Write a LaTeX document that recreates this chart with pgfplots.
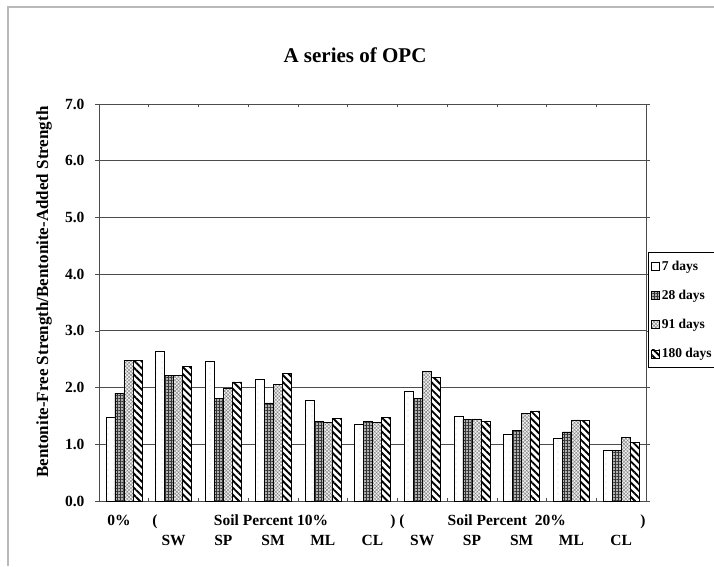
\documentclass[border=0pt]{standalone}
\usepackage{fontspec}
\setmainfont{Liberation Serif}
\usepackage{pgfplots}
\usepackage{pgfplotstable}
\pgfplotsset{compat=1.18}
\usetikzlibrary{patterns,patterns.meta}

\pgfplotstableread{
x d7 d28 d91 d180
0 1.48 1.90 2.48 2.48
1 2.64 2.22 2.22 2.38
2 2.46 1.81 1.99 2.10
3 2.14 1.73 2.06 2.25
4 1.78 1.40 1.38 1.46
5 1.36 1.40 1.39 1.48
6 1.93 1.81 2.28 2.18
7 1.50 1.44 1.45 1.40
8 1.18 1.24 1.55 1.59
9 1.10 1.22 1.43 1.42
10 0.89 0.89 1.12 1.04
}\datatable

\newcommand{\axfont}{\fontsize{15.5}{17}\selectfont\bfseries}

\begin{document}
\begin{tikzpicture}[x=1pt,y=1pt]
\path[use as bounding box] (0,0) rectangle (714,566);
\draw[gray!55, line width=1.5pt] (8,0) -- (8,559) -- (714,559);
\node[anchor=base, font=\fontsize{21}{23}\selectfont\bfseries] at (355,503) {A series of OPC};
\node[rotate=90, font=\fontsize{17}{19}\selectfont\bfseries] at (44,274) {Bentonite-Free Strength/Bentonite-Added Strength};
\begin{axis}[
  at={(99pt,65pt)}, anchor=south west, scale only axis,
  width=547pt, height=397pt,
  clip=false,
  ybar=0pt, bar width=9pt,
  xmin=-0.5, xmax=10.5, ymin=0, ymax=7,
  xtick={0,...,10},
  xticklabels={,SW,SP,SM,ML,CL,SW,SP,SM,ML,CL},
  minor xtick={-0.5,0.5,...,10.5},
  xtick align=inside,
  major x tick style={draw=none},
  minor x tick style={black!70, line width=0.6pt},
  minor tick length=3pt,
  ytick={0,1,...,7},
  ytick align=outside,
  major tick length=4pt,
  major y tick style={black!70, line width=0.6pt},
  ymajorgrids,
  major grid style={gray!60!black, line width=0.8pt},
  axis line style={gray!60!black, line width=0.8pt},
  /pgf/number format/assume math mode=true,
  yticklabel style={/pgf/number format/.cd, fixed, fixed zerofill, precision=1, /tikz/.cd, font=\axfont, xshift=-7pt},
  xticklabel style={font=\axfont, anchor=base, yshift=-44pt},
  legend image code/.code={\draw[#1] (0pt,-4pt) rectangle (8pt,4pt);},
  legend cell align=left,
  legend style={at={(1.0037,0.627)}, anchor=north west, draw=black, line width=0.6pt, fill=white,
    font=\fontsize{13.5}{15}\selectfont\bfseries, row sep=14.3pt, inner xsep=3pt, inner ysep=6.5pt,
    /tikz/every even column/.append style={column sep=1pt}},
]
\addplot[draw=black, line width=0.5pt, fill=white, postaction={pattern={Dots[distance=6pt, radius=0.45pt]}, pattern color=gray}] table[x=x, y=d7] {\datatable};
\addlegendentry{7 days}
\addplot[draw=black, line width=0.5pt, fill=gray!60, postaction={pattern={Hatch[angle=0, distance=3pt, line width=0.4pt]}, pattern color=gray!40!black}] table[x=x, y=d28] {\datatable};
\addlegendentry{28 days}
\addplot[draw=black, line width=0.5pt, fill=gray!12, postaction={pattern={Hatch[angle=45, distance=2.5pt, line width=0.4pt]}, pattern color=gray}] table[x=x, y=d91] {\datatable};
\addlegendentry{91 days}
\addplot[draw=black, line width=0.5pt, fill=white, postaction={pattern={Lines[angle=-45, distance=5pt, line width=1.9pt]}, pattern color=black}] table[x=x, y=d180] {\datatable};
\addlegendentry{180 days}
\begin{scope}[font=\axfont]
\node[anchor=base, yshift=-24pt] at (axis cs:-0.098,0) {0\%};
\node[anchor=base, yshift=-24pt] at (axis cs:0.626,0) {(};
\node[anchor=base, yshift=-24pt] at (axis cs:2.96,0) {Soil Percent 10\%};
\node[anchor=base, yshift=-24pt] at (axis cs:5.41,0) {)};
\node[anchor=base, yshift=-24pt] at (axis cs:5.59,0) {(};
\node[anchor=base, yshift=-24pt] at (axis cs:7.70,0) {Soil Percent\ \ 20\%};
\node[anchor=base, yshift=-24pt] at (axis cs:10.44,0) {)};
\end{scope}
\end{axis}
\end{tikzpicture}
\end{document}
